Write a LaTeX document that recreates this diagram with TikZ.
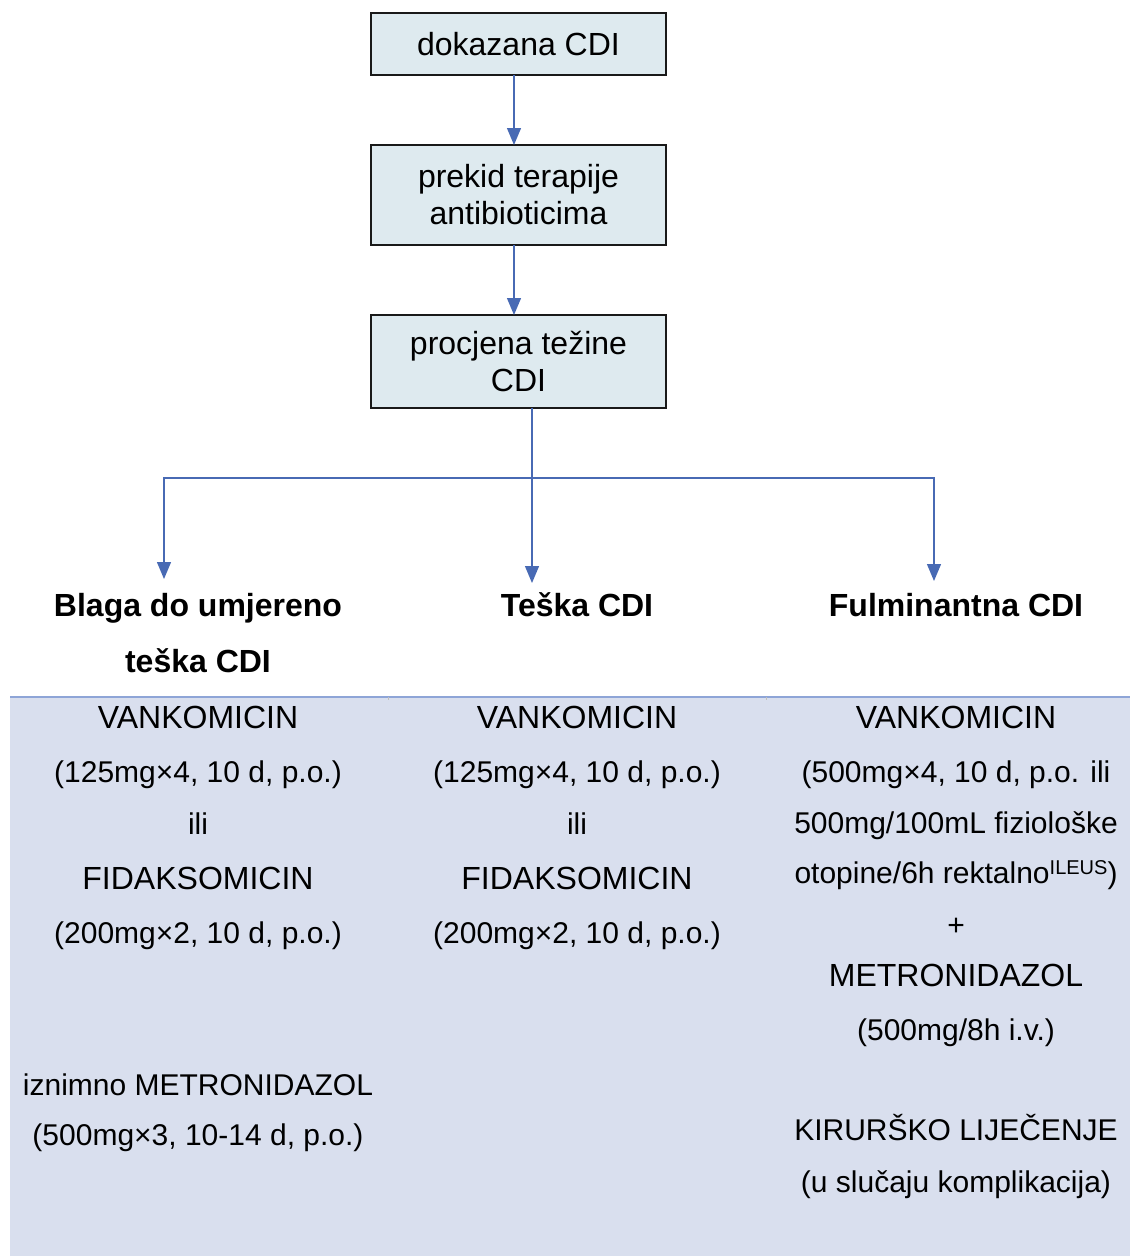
\documentclass[tikz,border=0pt]{standalone}
\usepackage{fontspec}
\setmainfont{Liberation Sans}
\usetikzlibrary{arrows.meta}
\definecolor{boxfill}{RGB}{222,234,239}
\definecolor{arr}{RGB}{72,106,180}
\definecolor{tabfill}{RGB}{217,223,238}
\definecolor{tabline}{RGB}{142,165,215}
\begin{document}
\begin{tikzpicture}[x=1pt,y=-1pt,
  every node/.style={inner sep=0pt,outer sep=0pt},
  flowbox/.style={draw=black!90,line width=1.6pt,fill=boxfill,minimum width=295pt,align=center,font=\fontsize{32}{37}\selectfont},
  conn/.style={draw=arr,line width=1.3pt,-{Triangle[length=17pt,width=14pt]}},
  plain/.style={draw=arr,line width=1.3pt},
  head/.style={anchor=base,font=\fontsize{32}{37}\selectfont\bfseries},
  txt/.style={anchor=base,font=\fontsize{30}{37}\selectfont},
  drug/.style={anchor=base,font=\fontsize{32}{37}\selectfont}]
\useasboundingbox (0,0) rectangle (1130,1256);
% flow boxes
\node[flowbox,minimum height=62pt] (b1) at (518.5,44) {dokazana CDI};
\node[flowbox,minimum height=100pt] (b2) at (518.5,195) {prekid terapije\\antibioticima};
\node[flowbox,minimum height=93pt] (b3) at (518.5,361.5) {procjena težine\\CDI};
\draw[conn] ([xshift=-4.5pt]b1.south) -- ([xshift=-4.5pt]b2.north);
\draw[conn] ([xshift=-4.5pt]b2.south) -- ([xshift=-4.5pt]b3.north);
% tree
\coordinate (j) at (532,478);
\coordinate (a1) at (164,579);
\coordinate (a2) at (532,583);
\coordinate (a3) at (934,581);
\draw[plain] ([xshift=13.5pt]b3.south) -- (j);
\draw[conn] (j) -- (a2);
\draw[conn] (j) -| (a1);
\draw[conn] (j) -| (a3);
% headings
\node[head] (h1a) at (198,616) {Blaga do umjereno};
\node[head] (h1b) at (198,672) {teška CDI};
\node[head] (h2) at (577,616) {Teška CDI};
\node[head] (h3) at (956,616) {Fulminantna CDI};
% table
\fill[tabfill] (10,697) rectangle (1130,1256);
\draw[tabline,line width=1.2pt] (10,697) -- (1130,697);
\draw[black!25,line width=0.8pt] (388,697) -- (388,700);
\draw[black!25,line width=0.8pt] (766,697) -- (766,700);
% column 1
\node[drug] (c1a) at (198,728) {VANKOMICIN};
\node[txt] (c1b) at (198,782) {(125mg×4, 10 d, p.o.)};
\node[txt] (c1c) at (198,834) {ili};
\node[drug] (c1d) at (198,889) {FIDAKSOMICIN};
\node[txt] (c1e) at (198,943) {(200mg×2, 10 d, p.o.)};
\node[txt] (c1f) at (198,1095) {iznimno METRONIDAZOL};
\node[txt] (c1g) at (198,1145) {(500mg×3, 10-14 d, p.o.)};
% column 2
\node[drug] (c2a) at (577,728) {VANKOMICIN};
\node[txt] (c2b) at (577,782) {(125mg×4, 10 d, p.o.)};
\node[txt] (c2c) at (577,834) {ili};
\node[drug] (c2d) at (577,889) {FIDAKSOMICIN};
\node[txt] (c2e) at (577,943) {(200mg×2, 10 d, p.o.)};
% column 3
\node[drug] (c3a) at (956,728) {VANKOMICIN};
\node[txt] (c3b) at (956,782) {(500mg×4, 10 d, p.o. ili};
\node[txt] (c3c) at (956,833) {500mg/100mL fiziološke};
\node[txt] (c3d) at (956,883) {otopine/6h rektalno\raisebox{9pt}{\fontsize{20}{20}\selectfont ILEUS})};
\node[txt] (c3e) at (956,935) {+};
\node[drug] (c3f) at (956,986) {METRONIDAZOL};
\node[txt] (c3g) at (956,1040) {(500mg/8h i.v.)};
\node[txt] (c3h) at (956,1140) {KIRURŠKO LIJEČENJE};
\node[txt] (c3i) at (956,1192) {(u slučaju komplikacija)};
\end{tikzpicture}
\end{document}
